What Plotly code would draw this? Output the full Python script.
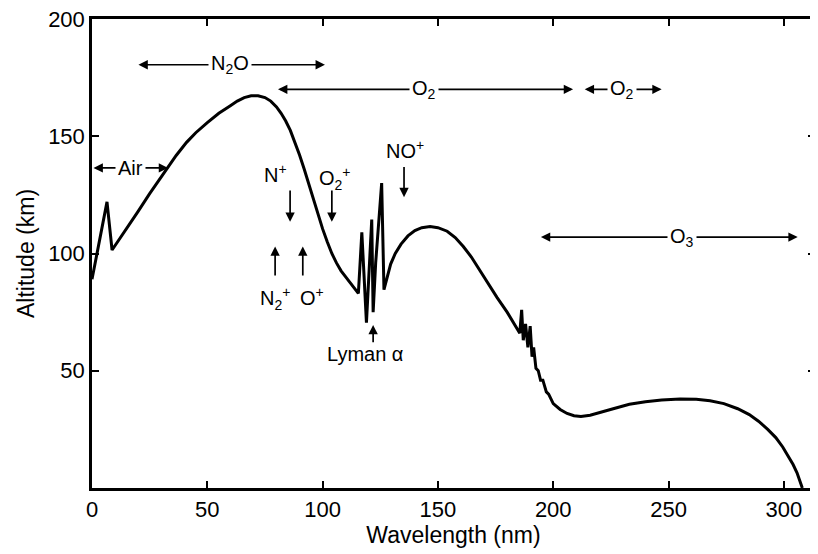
import plotly.graph_objects as go

# ---- curve data (wavelength nm, altitude km) ----
wavelength = [0, 3, 6.5, 8.7, 15, 20, 25, 32.5, 36.5, 41, 45, 50, 55, 60, 63, 66, 69, 72, 75, 77.5, 80, 82, 84, 86, 88,
              90, 92, 94, 96, 98, 100, 102, 104, 106, 108, 110, 112, 114.5, 115.5,
              117, 119, 121.3, 121.9, 123, 125.6, 126.6, 128, 129.5, 131.5, 134, 137, 140, 143, 146.6, 150, 154,
              157.5, 161, 164.5, 168, 172, 175.6, 180, 183, 185.5, 186.3, 187, 188, 189, 190, 190.8, 191.5, 192.5,
              193.5, 194.5, 195.5, 197, 198, 200, 203, 206, 209, 212, 216, 220, 226, 233, 240, 247, 255, 262, 268,
              274, 280, 285, 289, 293, 296.5, 299.5, 302, 304, 305.7, 307, 308]
altitude = [89, 104, 122, 101.5, 110.5, 118, 125.5, 136, 141.8, 147.4, 151.5, 155.8, 159.8, 163, 165, 166.5, 167.3, 167.3,
            166.5, 165, 162.5, 159.8, 156.5, 152.5, 147.5,
            142, 136, 129.5, 123, 116.5, 110.5, 105, 100, 96, 92.6, 90, 87.6, 84.5, 83,
            109, 70.5, 114.5, 75, 96, 130, 84.6, 90.5, 95.5, 100, 104, 107.5, 109.8, 111, 111.5, 111, 109.5,
            106.8, 103, 98.5, 93, 87, 81.3, 75, 70, 66, 76, 63, 70, 60, 69, 56, 60, 51,
            50, 46, 46, 41, 40, 36, 33.5, 31.8, 30.8, 30.5, 31, 32, 33.8, 35.7, 36.8, 37.5, 37.9, 37.8, 37.2,
            36, 33.8, 31.3, 28.5, 25, 21.5, 17.5, 13.5, 10, 6.5, 3, 0]

x_ticks = [0, 50, 100, 150, 200, 250, 300]
y_ticks = [50, 100, 150, 200]

# ---- absorber bands (double-headed arrows) ----
band_labels = ["N<sub>2</sub>O", "O<sub>2</sub>", "O<sub>2</sub>", "O<sub>3</sub>", "Air"]
band_x0 = [19.5, 80, 213, 194, 0]
band_x1 = [101, 208.6, 247, 306, 33]
band_y = [180.5, 170, 170, 107, 136.5]
band_label_x = [60, 144, 230, 256, 16.5]

# ---- ion / line labels with short arrows ----
ion_labels = ["N<sup>+</sup>", "O<sub>2</sub><sup>+</sup>", "NO<sup>+</sup>", "N<sub>2</sub><sup>+</sup>", "O<sup>+</sup>", "Lyman α"]
ion_label_x = [79.5, 105.5, 135.7, 79.5, 95.4, 118.4]
ion_label_y = [134, 132, 144.5, 81, 81.5, 57]
ion_arrow_x = [85.9, 104, 135.3, 79.4, 91.4, 121.9]
ion_arrow_tail = [127.5, 127.5, 137.5, 90, 90, 61.5]
ion_arrow_head = [113.5, 113.5, 124, 103, 103, 69.5]

FONT = "Liberation Sans, Arial, Helvetica, sans-serif"

fig = go.Figure()
fig.add_trace(go.Scatter(x=wavelength, y=altitude, mode="lines",
                         line=dict(color="black", width=3), showlegend=False, hoverinfo="skip"))

annotations = []
for lab, x0, x1, y, xl in zip(band_labels, band_x0, band_x1, band_y, band_label_x):
    annotations.append(dict(x=x1, y=y, ax=x0, ay=y, xref="x", yref="y", axref="x", ayref="y",
                            text="", showarrow=True, arrowhead=2, arrowside="end+start",
                            arrowsize=1.1, arrowwidth=1.7, arrowcolor="black",
                            standoff=0, startstandoff=0))
for lab, x0, x1, y, xl in zip(band_labels, band_x0, band_x1, band_y, band_label_x):
    annotations.append(dict(x=xl, y=y, xref="x", yref="y", text=lab, showarrow=False,
                            bgcolor="white", borderpad=2,
                            font=dict(family=FONT, size=20, color="black")))
for lab, lx, ly in zip(ion_labels, ion_label_x, ion_label_y):
    annotations.append(dict(x=lx, y=ly, xref="x", yref="y", text=lab, showarrow=False,
                            font=dict(family=FONT, size=20, color="black")))
for ax_, t, h in zip(ion_arrow_x, ion_arrow_tail, ion_arrow_head):
    annotations.append(dict(x=ax_, y=h, ax=ax_, ay=t, xref="x", yref="y", axref="x", ayref="y",
                            text="", showarrow=True, arrowhead=2, arrowsize=1.1, arrowwidth=1.7,
                            arrowcolor="black", standoff=0, startstandoff=0))

# The page body adds an 8 px margin, so the figure is sized to fit the 818x554 window.
fig.update_layout(
    width=810, height=546,
    margin=dict(l=84, r=3, t=11, b=66),
    paper_bgcolor="white", plot_bgcolor="white",
    font=dict(family=FONT, size=21, color="black"),
    annotations=annotations,
    xaxis=dict(range=[0, 313.5], tickvals=x_ticks, ticktext=[str(v) for v in x_ticks],
               showline=True, linecolor="black", linewidth=2.5, mirror="ticks",
               ticks="inside", ticklen=7, tickwidth=2, tickcolor="black",
               showgrid=False, zeroline=False, automargin=False, ticklabeloverflow="allow",
               tickfont=dict(family=FONT, size=22),
               title=dict(text="Wavelength (nm)", font=dict(family=FONT, size=23), standoff=4)),
    yaxis=dict(range=[0, 200], tickvals=y_ticks, ticktext=[str(v) for v in y_ticks],
               showline=True, linecolor="black", linewidth=2.5, mirror="ticks",
               ticks="inside", ticklen=7, tickwidth=2, tickcolor="black",
               showgrid=False, zeroline=False, automargin=False, ticklabeloverflow="allow",
               tickfont=dict(family=FONT, size=22),
               title=dict(text="Altitude (km)", font=dict(family=FONT, size=23), standoff=8)),
)

fig.write_html("out.html")
